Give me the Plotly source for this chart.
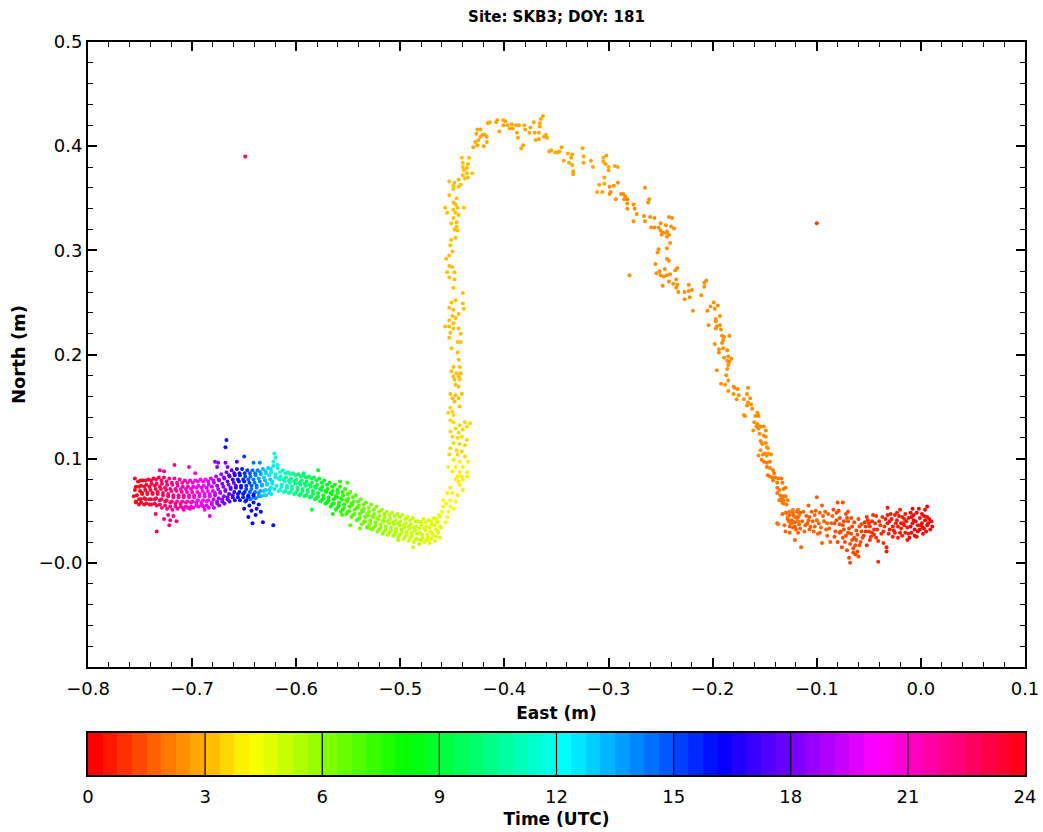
import colorsys
import plotly.graph_objects as go

# Each epoch: (hour UTC, east m, north m)
night_drift = [
    (0.2, 0.011, 0.035), (0.2, 0.009, 0.032), (0.2, 0.007, 0.038), (0.2, 0.006, 0.044), (0.2, 0.006, 0.054),
    (0.2, 0.004, 0.051), (0.2, 0.002, 0.034), (0.2, 0.001, 0.038), (0.2, -0.001, 0.043), (0.2, -0.001, 0.032),
    (0.2, -0.004, 0.048), (0.2, -0.006, 0.032), (0.2, -0.008, 0.038), (0.2, -0.009, 0.044), (0.2, -0.009, 0.029),
    (0.2, -0.011, 0.024), (0.2, -0.005, 0.040), (0.2, -0.003, 0.030), (0.2, -0.010, 0.035), (0.2, 0.003, 0.045),
    (0.2, 0.000, 0.036), (0.2, -0.007, 0.046), (0.2, 0.005, 0.030), (0.2, 0.008, 0.042), (0.2, -0.002, 0.052),
    (0.2, 0.002, 0.028), (0.2, -0.006, 0.026), (0.2, 0.010, 0.040), (0.2, 0.004, 0.041), (0.2, 0.001, 0.047),
    (0.2, -0.003, 0.036), (0.2, -0.007, 0.041), (0.2, -0.010, 0.048), (0.2, 0.006, 0.036), (0.2, -0.004, 0.025),
    (0.2, 0.003, 0.033), (0.2, -0.008, 0.052),
    (0.5, -0.012, 0.043), (0.5, -0.013, 0.022), (0.5, -0.015, 0.029), (0.5, -0.017, 0.038), (0.5, -0.018, 0.044),
    (0.5, -0.020, 0.051), (0.5, -0.022, 0.024), (0.5, -0.023, 0.048), (0.5, -0.025, 0.029), (0.5, -0.027, 0.035),
    (0.5, -0.030, 0.032), (0.5, -0.032, 0.053), (0.5, -0.032, 0.046), (0.5, -0.032, 0.038), (0.5, -0.033, 0.015),
    (0.5, -0.033, 0.011), (0.5, -0.014, 0.040), (0.5, -0.019, 0.033), (0.5, -0.021, 0.045), (0.5, -0.024, 0.038),
    (0.5, -0.028, 0.042), (0.5, -0.012, 0.028), (0.5, -0.016, 0.036), (0.5, -0.026, 0.031), (0.5, -0.029, 0.047),
    (0.5, -0.018, 0.026), (0.5, -0.022, 0.035), (0.5, -0.015, 0.047), (0.5, -0.013, 0.034), (0.5, -0.016, 0.042),
    (0.5, -0.019, 0.038), (0.5, -0.020, 0.029), (0.5, -0.023, 0.041), (0.5, -0.025, 0.046), (0.5, -0.027, 0.025),
    (0.5, -0.030, 0.040), (0.5, -0.031, 0.028), (0.5, -0.034, 0.042),
    (0.9, -0.036, 0.019), (0.9, -0.041, 0.001), (0.9, -0.042, 0.032), (0.9, -0.044, 0.038), (0.9, -0.046, 0.046),
    (0.9, -0.047, 0.029), (0.9, -0.049, 0.035), (0.9, -0.049, 0.022), (0.9, -0.051, 0.041), (0.9, -0.054, 0.039),
    (0.9, -0.035, 0.035), (0.9, -0.038, 0.028), (0.9, -0.040, 0.040), (0.9, -0.045, 0.032), (0.9, -0.048, 0.025),
    (0.9, -0.050, 0.038), (0.9, -0.053, 0.030), (0.9, -0.052, 0.044), (0.9, -0.037, 0.044), (0.9, -0.043, 0.024),
    (0.9, -0.036, 0.030), (0.9, -0.039, 0.036), (0.9, -0.041, 0.021), (0.9, -0.043, 0.045), (0.9, -0.045, 0.027),
    (0.9, -0.047, 0.040), (0.9, -0.050, 0.030), (0.9, -0.052, 0.017), (0.9, -0.053, 0.035), (0.9, -0.055, 0.026),
    (1.3, -0.056, 0.024), (1.3, -0.059, 0.035), (1.3, -0.059, 0.017), (1.3, -0.060, 0.006), (1.3, -0.061, 0.027),
    (1.3, -0.061, 0.011), (1.3, -0.064, 0.039), (1.3, -0.065, 0.014), (1.3, -0.066, 0.022), (1.3, -0.068, 0.000),
    (1.3, -0.070, 0.049), (1.3, -0.070, 0.029), (1.3, -0.071, 0.043), (1.3, -0.075, 0.058), (1.3, -0.075, 0.036),
    (1.3, -0.075, 0.024), (1.3, -0.078, 0.043), (1.3, -0.078, 0.029), (1.3, -0.080, 0.058), (1.3, -0.080, 0.020),
    (1.3, -0.081, 0.048), (1.3, -0.083, 0.038), (1.3, -0.084, 0.051), (1.3, -0.058, 0.020), (1.3, -0.062, 0.031),
    (1.3, -0.064, 0.024), (1.3, -0.066, 0.035), (1.3, -0.068, 0.018), (1.3, -0.070, 0.040), (1.3, -0.072, 0.026),
    (1.3, -0.074, 0.032), (1.3, -0.076, 0.015), (1.3, -0.078, 0.037), (1.3, -0.065, 0.010), (1.3, -0.069, 0.005),
    (1.3, -0.071, 0.012), (1.3, -0.073, 0.020), (1.3, -0.063, 0.017), (1.3, -0.057, 0.030), (1.3, -0.082, 0.030),
    (1.3, -0.057, 0.037), (1.3, -0.060, 0.042), (1.3, -0.062, 0.022), (1.3, -0.063, 0.008), (1.3, -0.067, 0.028),
    (1.3, -0.067, 0.043), (1.3, -0.069, 0.033), (1.3, -0.072, 0.047), (1.3, -0.074, 0.040), (1.3, -0.077, 0.030),
    (1.3, -0.079, 0.050), (1.3, -0.081, 0.041), (1.3, -0.083, 0.025),
    (1.7, -0.087, 0.020), (1.7, -0.090, 0.038), (1.7, -0.092, 0.049), (1.7, -0.095, 0.055), (1.7, -0.095, 0.019),
    (1.7, -0.097, 0.048), (1.7, -0.097, 0.029), (1.7, -0.100, 0.063), (1.7, -0.100, 0.041), (1.7, -0.102, 0.046),
    (1.7, -0.102, 0.035), (1.7, -0.105, 0.049), (1.7, -0.107, 0.044), (1.7, -0.107, 0.032), (1.7, -0.108, 0.055),
    (1.7, -0.109, 0.038), (1.7, -0.115, 0.015), (1.7, -0.116, 0.048), (1.7, -0.118, 0.044), (1.7, -0.118, 0.029),
    (1.7, -0.119, 0.049), (1.7, -0.121, 0.039), (1.7, -0.121, 0.035), (1.7, -0.121, 0.022), (1.7, -0.123, 0.048),
    (1.7, -0.124, 0.041), (1.7, -0.126, 0.046), (1.7, -0.126, 0.035), (1.7, -0.126, 0.029), (1.7, -0.129, 0.048),
    (1.7, -0.138, 0.038), (1.7, -0.085, 0.045), (1.7, -0.088, 0.033), (1.7, -0.090, 0.026), (1.7, -0.093, 0.040),
    (1.7, -0.096, 0.034), (1.7, -0.099, 0.028), (1.7, -0.101, 0.050), (1.7, -0.104, 0.040), (1.7, -0.106, 0.035),
    (1.7, -0.110, 0.045), (1.7, -0.112, 0.030), (1.7, -0.114, 0.040), (1.7, -0.117, 0.037), (1.7, -0.120, 0.032),
    (1.7, -0.122, 0.045), (1.7, -0.125, 0.038), (1.7, -0.128, 0.042), (1.7, -0.131, 0.036), (1.7, -0.133, 0.047),
    (1.7, -0.130, 0.030), (1.7, -0.086, 0.038), (1.7, -0.089, 0.047), (1.7, -0.091, 0.032), (1.7, -0.094, 0.045),
    (1.7, -0.098, 0.038), (1.7, -0.103, 0.030), (1.7, -0.108, 0.041), (1.7, -0.111, 0.036), (1.7, -0.113, 0.049),
    (1.7, -0.116, 0.033), (1.7, -0.119, 0.043), (1.7, -0.123, 0.034), (1.7, -0.127, 0.040),
    (1.0, -0.100, 0.326),
]

rise_east = [
    (2.0, -0.130, 0.048), (2.0, -0.126, 0.049), (2.0, -0.123, 0.051), (2.0, -0.118, 0.051), (2.0, -0.128, 0.044),
    (2.0, -0.121, 0.044), (2.0, -0.117, 0.046), (2.0, -0.137, 0.037), (2.0, -0.124, 0.038), (2.0, -0.118, 0.040),
    (2.0, -0.129, 0.056), (2.0, -0.132, 0.057), (2.0, -0.133, 0.058), (2.0, -0.128, 0.060), (2.0, -0.132, 0.060),
    (2.0, -0.136, 0.060), (2.0, -0.134, 0.062), (2.0, -0.130, 0.064), (2.0, -0.132, 0.064), (2.0, -0.135, 0.065),
    (2.0, -0.138, 0.067), (2.0, -0.130, 0.072), (2.0, -0.132, 0.071), (2.0, -0.136, 0.070), (2.0, -0.138, 0.072),
    (2.0, -0.133, 0.077), (2.0, -0.138, 0.077), (2.0, -0.142, 0.079), (2.0, -0.134, 0.081), (2.0, -0.137, 0.081),
    (2.0, -0.140, 0.082), (2.0, -0.143, 0.082), (2.0, -0.145, 0.083), (2.0, -0.147, 0.084), (2.0, -0.141, 0.086),
    (2.0, -0.142, 0.089), (2.0, -0.145, 0.091), (2.0, -0.148, 0.092), (2.0, -0.145, 0.097), (2.0, -0.148, 0.096),
    (2.0, -0.151, 0.097), (2.0, -0.153, 0.099),
    (2.4, -0.156, 0.103), (2.4, -0.144, 0.104), (2.4, -0.147, 0.105), (2.4, -0.148, 0.103), (2.4, -0.150, 0.105),
    (2.4, -0.152, 0.104), (2.4, -0.154, 0.108), (2.4, -0.147, 0.110), (2.4, -0.148, 0.111), (2.4, -0.149, 0.115),
    (2.4, -0.152, 0.114), (2.4, -0.153, 0.115), (2.4, -0.154, 0.117), (2.4, -0.149, 0.121), (2.4, -0.151, 0.122),
    (2.4, -0.155, 0.124), (2.4, -0.149, 0.127), (2.4, -0.161, 0.127), (2.4, -0.156, 0.129), (2.4, -0.154, 0.131),
    (2.4, -0.151, 0.131), (2.4, -0.158, 0.131), (2.4, -0.157, 0.133), (2.4, -0.160, 0.135), (2.4, -0.157, 0.144),
    (2.4, -0.156, 0.141), (2.4, -0.159, 0.141), (2.4, -0.169, 0.141), (2.4, -0.170, 0.142), (2.4, -0.162, 0.148),
    (2.4, -0.163, 0.152), (2.4, -0.167, 0.151), (2.4, -0.166, 0.154), (2.4, -0.164, 0.158), (2.4, -0.170, 0.157),
    (2.4, -0.177, 0.157), (2.4, -0.167, 0.162), (2.4, -0.175, 0.161), (2.4, -0.180, 0.162), (2.4, -0.166, 0.168),
    (2.4, -0.176, 0.167), (2.4, -0.179, 0.168), (2.4, -0.180, 0.169), (2.4, -0.185, 0.165), (2.4, -0.188, 0.171),
    (2.4, -0.192, 0.172), (2.4, -0.185, 0.175), (2.4, -0.187, 0.180), (2.4, -0.196, 0.185), (2.4, -0.186, 0.186),
    (2.4, -0.185, 0.190), (2.4, -0.184, 0.193), (2.4, -0.186, 0.194), (2.4, -0.182, 0.196), (2.4, -0.185, 0.198),
    (2.4, -0.189, 0.197), (2.4, -0.194, 0.202), (2.4, -0.186, 0.204), (2.4, -0.190, 0.206), (2.4, -0.194, 0.205),
    (2.4, -0.198, 0.210), (2.4, -0.191, 0.211), (2.4, -0.190, 0.214), (2.4, -0.184, 0.218), (2.4, -0.189, 0.217),
    (2.4, -0.191, 0.218), (2.4, -0.192, 0.224), (2.4, -0.197, 0.225), (2.4, -0.193, 0.228), (2.4, -0.196, 0.227),
    (2.4, -0.204, 0.228), (2.4, -0.197, 0.232), (2.4, -0.193, 0.237), (2.4, -0.197, 0.234), (2.4, -0.198, 0.244),
    (2.4, -0.205, 0.242), (2.4, -0.202, 0.246), (2.4, -0.195, 0.247), (2.4, -0.199, 0.250), (2.4, -0.219, 0.242),
    (2.4, -0.211, 0.257), (2.4, -0.208, 0.265), (2.4, -0.206, 0.271), (2.4, -0.208, 0.269), (2.4, -0.220, 0.262),
    (2.4, -0.223, 0.261), (2.4, -0.223, 0.267), (2.4, -0.222, 0.255), (2.4, -0.227, 0.253), (2.4, -0.227, 0.260),
    (2.4, -0.233, 0.260), (2.4, -0.234, 0.267), (2.4, -0.235, 0.264), (2.4, -0.248, 0.266), (2.4, -0.235, 0.272),
    (2.4, -0.238, 0.268), (2.4, -0.242, 0.270), (2.4, -0.234, 0.283), (2.4, -0.236, 0.281), (2.4, -0.241, 0.277),
    (2.4, -0.244, 0.276), (2.4, -0.247, 0.275), (2.4, -0.250, 0.276), (2.4, -0.246, 0.282), (2.4, -0.251, 0.280),
    (2.4, -0.254, 0.278), (2.4, -0.280, 0.276), (2.4, -0.255, 0.287), (2.4, -0.242, 0.290), (2.4, -0.244, 0.292),
    (2.4, -0.253, 0.298), (2.4, -0.244, 0.302), (2.4, -0.252, 0.301), (2.4, -0.241, 0.307), (2.4, -0.242, 0.315),
    (2.4, -0.244, 0.313), (2.4, -0.249, 0.315), (2.4, -0.245, 0.317), (2.4, -0.248, 0.317), (2.4, -0.244, 0.318),
    (2.4, -0.250, 0.319), (2.4, -0.252, 0.322), (2.4, -0.256, 0.322), (2.4, -0.259, 0.322), (2.4, -0.237, 0.321),
    (2.4, -0.240, 0.323), (2.4, -0.245, 0.324), (2.4, -0.250, 0.326), (2.4, -0.239, 0.331), (2.4, -0.242, 0.332),
    (2.4, -0.256, 0.331), (2.4, -0.260, 0.332), (2.4, -0.265, 0.328), (2.4, -0.266, 0.333), (2.4, -0.273, 0.335),
    (2.4, -0.276, 0.328), (2.4, -0.275, 0.340), (2.4, -0.276, 0.344), (2.4, -0.282, 0.340), (2.4, -0.282, 0.345),
    (2.4, -0.262, 0.346), (2.4, -0.261, 0.349), (2.4, -0.265, 0.360), (2.4, -0.282, 0.349), (2.4, -0.285, 0.349),
    (2.4, -0.284, 0.352), (2.4, -0.286, 0.354), (2.4, -0.288, 0.354), (2.4, -0.293, 0.349), (2.4, -0.291, 0.365),
    (2.4, -0.295, 0.362), (2.4, -0.298, 0.356), (2.4, -0.299, 0.361), (2.4, -0.299, 0.354),
]

crest = [
    (2.8, -0.300, 0.377), (2.8, -0.300, 0.380), (2.8, -0.294, 0.381), (2.8, -0.291, 0.380), (2.8, -0.302, 0.391),
    (2.8, -0.303, 0.383), (2.8, -0.305, 0.389), (2.8, -0.305, 0.385), (2.8, -0.304, 0.370), (2.8, -0.304, 0.364),
    (2.8, -0.309, 0.363), (2.8, -0.306, 0.356), (2.8, -0.311, 0.356), (2.8, -0.315, 0.380), (2.8, -0.317, 0.386),
    (2.8, -0.324, 0.390), (2.8, -0.324, 0.384), (2.8, -0.325, 0.398), (2.8, -0.334, 0.376), (2.8, -0.334, 0.373),
    (2.8, -0.335, 0.382), (2.8, -0.338, 0.384), (2.8, -0.336, 0.389), (2.8, -0.335, 0.392), (2.8, -0.339, 0.393),
    (2.8, -0.343, 0.386), (2.8, -0.345, 0.399), (2.8, -0.347, 0.395), (2.8, -0.349, 0.394), (2.8, -0.351, 0.394),
    (2.8, -0.355, 0.396), (2.8, -0.357, 0.395), (2.8, -0.359, 0.408), (2.8, -0.360, 0.411), (2.8, -0.362, 0.409),
    (2.8, -0.363, 0.429), (2.8, -0.365, 0.426), (2.8, -0.366, 0.422), (2.8, -0.366, 0.419), (2.8, -0.367, 0.413),
    (2.8, -0.367, 0.407), (2.8, -0.370, 0.406), (2.8, -0.371, 0.413), (2.8, -0.372, 0.423), (2.8, -0.375, 0.418),
    (2.8, -0.376, 0.413), (2.8, -0.380, 0.416), (2.8, -0.381, 0.420), (2.8, -0.382, 0.401), (2.8, -0.384, 0.398),
    (2.8, -0.386, 0.420), (2.8, -0.387, 0.408), (2.8, -0.388, 0.413), (2.8, -0.389, 0.420), (2.8, -0.392, 0.417),
    (2.8, -0.393, 0.421), (2.8, -0.395, 0.417), (2.8, -0.397, 0.420), (2.8, -0.399, 0.424), (2.8, -0.401, 0.425),
    (2.8, -0.401, 0.420), (2.8, -0.405, 0.414), (2.8, -0.407, 0.425), (2.8, -0.408, 0.423), (2.8, -0.414, 0.423),
    (2.8, -0.416, 0.422), (2.8, -0.417, 0.409), (2.8, -0.417, 0.404), (2.8, -0.419, 0.411), (2.8, -0.421, 0.411),
    (2.8, -0.420, 0.400), (2.8, -0.423, 0.416), (2.8, -0.423, 0.409), (2.8, -0.425, 0.406), (2.8, -0.426, 0.416),
    (2.8, -0.426, 0.401), (2.8, -0.427, 0.412), (2.8, -0.428, 0.404), (2.8, -0.430, 0.399),
]

fall_south = [
    (3.1, -0.434, 0.389), (3.1, -0.435, 0.383), (3.1, -0.436, 0.379), (3.1, -0.436, 0.374), (3.1, -0.431, 0.374),
    (3.1, -0.438, 0.369), (3.1, -0.435, 0.370), (3.1, -0.439, 0.377), (3.1, -0.440, 0.372), (3.1, -0.440, 0.380),
    (3.1, -0.440, 0.384), (3.1, -0.441, 0.389), (3.1, -0.442, 0.363), (3.1, -0.444, 0.368), (3.1, -0.444, 0.361),
    (3.1, -0.448, 0.365), (3.1, -0.453, 0.366), (3.1, -0.449, 0.362), (3.1, -0.449, 0.359), (3.1, -0.453, 0.353),
    (3.1, -0.446, 0.350), (3.1, -0.449, 0.346), (3.1, -0.447, 0.344), (3.1, -0.439, 0.341), (3.1, -0.445, 0.341),
    (3.1, -0.449, 0.339), (3.1, -0.457, 0.341), (3.1, -0.455, 0.336), (3.1, -0.447, 0.336), (3.1, -0.444, 0.334),
    (3.1, -0.449, 0.331), (3.1, -0.446, 0.327), (3.1, -0.451, 0.326), (3.1, -0.446, 0.323), (3.1, -0.448, 0.320),
    (3.1, -0.445, 0.319), (3.1, -0.451, 0.310), (3.1, -0.447, 0.312), (3.1, -0.452, 0.305), (3.1, -0.450, 0.299),
    (3.1, -0.453, 0.295), (3.1, -0.456, 0.292), (3.1, -0.453, 0.285), (3.1, -0.450, 0.284), (3.1, -0.448, 0.279),
    (3.1, -0.455, 0.279), (3.1, -0.453, 0.274), (3.1, -0.448, 0.272), (3.1, -0.449, 0.264), (3.1, -0.440, 0.259),
    (3.1, -0.451, 0.250), (3.1, -0.447, 0.252),
    (3.3, -0.440, 0.249), (3.3, -0.439, 0.244), (3.3, -0.449, 0.243), (3.3, -0.453, 0.245), (3.3, -0.444, 0.239),
    (3.3, -0.450, 0.237), (3.3, -0.447, 0.235), (3.3, -0.453, 0.233), (3.3, -0.449, 0.230), (3.3, -0.457, 0.227),
    (3.3, -0.453, 0.227), (3.3, -0.449, 0.225), (3.3, -0.444, 0.225), (3.3, -0.452, 0.221), (3.3, -0.442, 0.220),
    (3.3, -0.453, 0.216), (3.3, -0.445, 0.212), (3.3, -0.442, 0.212), (3.3, -0.451, 0.206), (3.3, -0.445, 0.202),
    (3.3, -0.444, 0.195), (3.3, -0.449, 0.188), (3.3, -0.443, 0.188), (3.3, -0.451, 0.184), (3.3, -0.446, 0.182),
    (3.3, -0.442, 0.182), (3.3, -0.449, 0.179), (3.3, -0.444, 0.179), (3.3, -0.448, 0.176), (3.3, -0.443, 0.176),
    (3.3, -0.447, 0.171), (3.3, -0.444, 0.169), (3.3, -0.452, 0.162), (3.3, -0.447, 0.161), (3.3, -0.441, 0.162),
    (3.3, -0.450, 0.158), (3.3, -0.444, 0.158), (3.3, -0.448, 0.155), (3.3, -0.443, 0.150),
    (3.6, -0.452, 0.149), (3.6, -0.450, 0.145), (3.6, -0.454, 0.144), (3.6, -0.449, 0.142), (3.6, -0.452, 0.137),
    (3.6, -0.449, 0.135), (3.6, -0.438, 0.135), (3.6, -0.433, 0.134), (3.6, -0.443, 0.132), (3.6, -0.436, 0.131),
    (3.6, -0.447, 0.129), (3.6, -0.440, 0.128), (3.6, -0.452, 0.126), (3.6, -0.444, 0.125), (3.6, -0.450, 0.121),
    (3.6, -0.445, 0.120), (3.6, -0.441, 0.121), (3.6, -0.436, 0.118), (3.6, -0.449, 0.115), (3.6, -0.443, 0.114),
    (3.6, -0.438, 0.113), (3.6, -0.452, 0.110), (3.6, -0.446, 0.108), (3.6, -0.441, 0.107), (3.6, -0.453, 0.104),
    (3.6, -0.445, 0.104), (3.6, -0.438, 0.102),
    (3.9, -0.449, 0.099), (3.9, -0.443, 0.097), (3.9, -0.435, 0.097), (3.9, -0.454, 0.092), (3.9, -0.447, 0.092),
    (3.9, -0.440, 0.092), (3.9, -0.450, 0.088), (3.9, -0.443, 0.087), (3.9, -0.436, 0.087), (3.9, -0.445, 0.083),
    (3.9, -0.441, 0.083), (3.9, -0.436, 0.083), (3.9, -0.444, 0.078), (3.9, -0.440, 0.080), (3.9, -0.447, 0.080),
    (3.9, -0.443, 0.075), (3.9, -0.440, 0.070), (3.9, -0.452, 0.072), (3.9, -0.455, 0.067), (3.9, -0.450, 0.067),
    (3.9, -0.445, 0.065),
    (4.2, -0.459, 0.060), (4.2, -0.452, 0.060), (4.2, -0.447, 0.059), (4.2, -0.459, 0.054), (4.2, -0.452, 0.054),
    (4.2, -0.460, 0.049), (4.2, -0.454, 0.049), (4.2, -0.449, 0.052), (4.2, -0.456, 0.057),
    (4.4, -0.462, 0.044), (4.4, -0.455, 0.044), (4.4, -0.464, 0.039), (4.4, -0.457, 0.039), (4.4, -0.468, 0.036),
    (4.4, -0.462, 0.035),
]

west_creep = [
    (4.5, -0.463, 0.046), (4.5, -0.465, 0.040), (4.5, -0.461, 0.034), (4.5, -0.464, 0.029), (4.5, -0.462, 0.024),
    (4.6, -0.468, 0.043), (4.6, -0.470, 0.037), (4.6, -0.466, 0.032), (4.6, -0.469, 0.026), (4.6, -0.467, 0.021),
    (4.7, -0.473, 0.041), (4.7, -0.475, 0.035), (4.7, -0.471, 0.030), (4.7, -0.474, 0.025), (4.7, -0.472, 0.019),
    (4.8, -0.478, 0.042), (4.8, -0.480, 0.036), (4.8, -0.476, 0.031), (4.8, -0.479, 0.024), (4.8, -0.477, 0.020),
    (4.9, -0.483, 0.040), (4.9, -0.485, 0.035), (4.9, -0.481, 0.029), (4.9, -0.484, 0.023), (4.9, -0.482, 0.018),
    (5.0, -0.488, 0.043), (5.0, -0.490, 0.037), (5.0, -0.486, 0.031), (5.0, -0.489, 0.026), (5.0, -0.487, 0.020),
    (5.1, -0.493, 0.044), (5.1, -0.495, 0.038), (5.1, -0.491, 0.033), (5.1, -0.494, 0.027), (5.1, -0.492, 0.021),
    (5.2, -0.498, 0.046), (5.2, -0.500, 0.040), (5.2, -0.496, 0.034), (5.2, -0.499, 0.029), (5.2, -0.497, 0.023),
    (5.3, -0.503, 0.047), (5.3, -0.505, 0.041), (5.3, -0.501, 0.036), (5.3, -0.504, 0.030), (5.3, -0.502, 0.025),
    (5.5, -0.508, 0.048), (5.5, -0.510, 0.042), (5.5, -0.506, 0.037), (5.5, -0.509, 0.031), (5.5, -0.507, 0.026),
    (5.6, -0.513, 0.049), (5.6, -0.515, 0.044), (5.6, -0.511, 0.038), (5.6, -0.514, 0.032), (5.6, -0.512, 0.027),
    (5.8, -0.518, 0.051), (5.8, -0.520, 0.045), (5.8, -0.516, 0.040), (5.8, -0.519, 0.034), (5.8, -0.517, 0.028),
    (6.0, -0.523, 0.054), (6.0, -0.525, 0.047), (6.0, -0.521, 0.042), (6.0, -0.524, 0.036), (6.0, -0.522, 0.030),
    (6.2, -0.528, 0.056), (6.2, -0.530, 0.049), (6.2, -0.526, 0.044), (6.2, -0.529, 0.038), (6.2, -0.527, 0.032),
    (6.4, -0.533, 0.058), (6.4, -0.535, 0.052), (6.4, -0.531, 0.046), (6.4, -0.534, 0.040), (6.4, -0.532, 0.034),
    (6.6, -0.538, 0.061), (6.6, -0.540, 0.055), (6.6, -0.536, 0.049), (6.6, -0.539, 0.043), (6.6, -0.537, 0.037),
    (6.9, -0.543, 0.065), (6.9, -0.545, 0.059), (6.9, -0.541, 0.053), (6.9, -0.544, 0.047), (6.9, -0.542, 0.041),
    (7.1, -0.548, 0.068), (7.1, -0.550, 0.062), (7.1, -0.546, 0.056), (7.1, -0.549, 0.050), (7.1, -0.547, 0.044),
    (7.4, -0.553, 0.071), (7.4, -0.555, 0.065), (7.4, -0.551, 0.059), (7.4, -0.554, 0.053), (7.4, -0.552, 0.047),
    (7.7, -0.558, 0.073), (7.7, -0.560, 0.067), (7.7, -0.556, 0.061), (7.7, -0.559, 0.055), (7.7, -0.557, 0.049),
    (8.0, -0.563, 0.075), (8.0, -0.565, 0.069), (8.0, -0.561, 0.063), (8.0, -0.564, 0.057), (8.0, -0.562, 0.051),
    (8.3, -0.568, 0.077), (8.3, -0.570, 0.071), (8.3, -0.566, 0.066), (8.3, -0.569, 0.060), (8.3, -0.567, 0.054),
    (8.6, -0.573, 0.079), (8.6, -0.575, 0.073), (8.6, -0.571, 0.068), (8.6, -0.574, 0.062), (8.6, -0.572, 0.057),
    (8.9, -0.578, 0.081), (8.9, -0.580, 0.075), (8.9, -0.576, 0.070), (8.9, -0.579, 0.064), (8.9, -0.577, 0.059),
    (9.2, -0.583, 0.082), (9.2, -0.585, 0.077), (9.2, -0.581, 0.072), (9.2, -0.584, 0.066), (9.2, -0.582, 0.061),
    (9.5, -0.588, 0.083), (9.5, -0.590, 0.078), (9.5, -0.586, 0.073), (9.5, -0.589, 0.068), (9.5, -0.587, 0.063),
    (9.8, -0.593, 0.084), (9.8, -0.595, 0.079), (9.8, -0.591, 0.074), (9.8, -0.594, 0.069), (9.8, -0.592, 0.064),
    (10.1, -0.598, 0.085), (10.1, -0.600, 0.080), (10.1, -0.596, 0.075), (10.1, -0.599, 0.070), (10.1, -0.597, 0.065),
    (10.4, -0.603, 0.086), (10.4, -0.605, 0.081), (10.4, -0.601, 0.076), (10.4, -0.604, 0.071), (10.4, -0.602, 0.066),
    (10.8, -0.608, 0.087), (10.8, -0.610, 0.082), (10.8, -0.606, 0.077), (10.8, -0.609, 0.072), (10.8, -0.607, 0.067),
    (11.2, -0.613, 0.089), (11.2, -0.615, 0.083), (11.2, -0.611, 0.078), (11.2, -0.614, 0.073), (11.2, -0.612, 0.068),
    (11.6, -0.618, 0.091), (11.6, -0.620, 0.085), (11.6, -0.616, 0.080), (11.6, -0.619, 0.074), (11.6, -0.617, 0.069),
    (4.6, -0.4655, 0.042), (4.6, -0.467, 0.036), (4.6, -0.464, 0.030), (4.6, -0.4655, 0.025),
    (4.7, -0.4705, 0.040), (4.7, -0.472, 0.034), (4.7, -0.469, 0.028), (4.7, -0.4705, 0.023),
    (4.8, -0.4755, 0.039), (4.8, -0.477, 0.033), (4.8, -0.474, 0.027), (4.8, -0.4755, 0.022),
    (4.9, -0.4805, 0.039), (4.9, -0.482, 0.033), (4.9, -0.479, 0.027), (4.9, -0.4805, 0.022),
    (5.0, -0.4855, 0.040), (5.0, -0.487, 0.034), (5.0, -0.484, 0.028), (5.0, -0.4855, 0.023),
    (5.1, -0.4905, 0.041), (5.1, -0.492, 0.035), (5.1, -0.489, 0.029), (5.1, -0.4905, 0.024),
    (5.2, -0.4955, 0.042), (5.2, -0.497, 0.036), (5.2, -0.494, 0.030), (5.2, -0.4955, 0.025),
    (5.3, -0.5005, 0.044), (5.3, -0.502, 0.038), (5.3, -0.499, 0.032), (5.3, -0.5005, 0.027),
    (5.4, -0.5055, 0.045), (5.4, -0.507, 0.039), (5.4, -0.504, 0.033), (5.4, -0.5055, 0.028),
    (5.6, -0.5105, 0.046), (5.6, -0.512, 0.040), (5.6, -0.509, 0.034), (5.6, -0.5105, 0.029),
    (5.7, -0.5155, 0.047), (5.7, -0.517, 0.041), (5.7, -0.514, 0.035), (5.7, -0.5155, 0.030),
    (5.9, -0.5205, 0.049), (5.9, -0.522, 0.043), (5.9, -0.519, 0.037), (5.9, -0.5205, 0.032),
    (6.1, -0.5255, 0.051), (6.1, -0.527, 0.045), (6.1, -0.524, 0.039), (6.1, -0.5255, 0.034),
    (6.3, -0.5305, 0.053), (6.3, -0.532, 0.047), (6.3, -0.529, 0.041), (6.3, -0.5305, 0.036),
    (6.5, -0.5355, 0.056), (6.5, -0.537, 0.050), (6.5, -0.534, 0.044), (6.5, -0.5355, 0.039),
    (6.8, -0.5405, 0.059), (6.8, -0.542, 0.053), (6.8, -0.539, 0.047), (6.8, -0.5405, 0.042),
    (7.0, -0.5455, 0.063), (7.0, -0.547, 0.057), (7.0, -0.544, 0.051), (7.0, -0.5455, 0.046),
    (7.3, -0.5505, 0.066), (7.3, -0.552, 0.060), (7.3, -0.549, 0.054), (7.3, -0.5505, 0.049),
    (7.6, -0.5555, 0.068), (7.6, -0.557, 0.062), (7.6, -0.554, 0.056), (7.6, -0.5555, 0.051),
    (7.9, -0.5605, 0.070), (7.9, -0.562, 0.064), (7.9, -0.559, 0.058), (7.9, -0.5605, 0.053),
    (8.2, -0.5655, 0.073), (8.2, -0.567, 0.067), (8.2, -0.564, 0.061), (8.2, -0.5655, 0.056),
    (8.5, -0.5705, 0.075), (8.5, -0.572, 0.069), (8.5, -0.569, 0.063), (8.5, -0.5705, 0.058),
    (8.8, -0.5755, 0.077), (8.8, -0.577, 0.071), (8.8, -0.574, 0.065), (8.8, -0.5755, 0.060),
    (9.1, -0.5805, 0.079), (9.1, -0.582, 0.073), (9.1, -0.579, 0.067), (9.1, -0.5805, 0.062),
    (9.4, -0.5855, 0.081), (9.4, -0.587, 0.075), (9.4, -0.584, 0.069), (9.4, -0.5855, 0.064),
    (9.7, -0.5905, 0.082), (9.7, -0.592, 0.076), (9.7, -0.589, 0.070), (9.7, -0.5905, 0.065),
    (10.0, -0.5955, 0.083), (10.0, -0.597, 0.077), (10.0, -0.594, 0.071), (10.0, -0.5955, 0.066),
    (10.3, -0.6005, 0.084), (10.3, -0.602, 0.078), (10.3, -0.599, 0.072), (10.3, -0.6005, 0.067),
    (10.6, -0.6055, 0.085), (10.6, -0.607, 0.079), (10.6, -0.604, 0.073), (10.6, -0.6055, 0.068),
    (11.0, -0.6105, 0.086), (11.0, -0.612, 0.080), (11.0, -0.609, 0.074), (11.0, -0.6105, 0.069),
    (11.4, -0.6155, 0.087), (11.4, -0.617, 0.081), (11.4, -0.614, 0.075), (11.4, -0.6155, 0.070),
    (4.9, -0.488, 0.015), (4.7, -0.474, 0.022), (5.3, -0.502, 0.022), (5.5, -0.512, 0.027), (6.2, -0.529, 0.033),
    (6.6, -0.539, 0.033), (7.1, -0.548, 0.036), (7.4, -0.556, 0.046), (7.9, -0.565, 0.047), (9.2, -0.585, 0.051),
    (8.9, -0.579, 0.089), (9.8, -0.593, 0.086), (7.7, -0.558, 0.078), (7.4, -0.551, 0.077),
]

evening_cluster = [
    (11.9, -0.621, 0.105), (11.9, -0.620, 0.101), (11.9, -0.622, 0.097), (11.9, -0.618, 0.094),
    (12.4, -0.622, 0.093), (12.4, -0.624, 0.087), (12.4, -0.620, 0.082), (12.4, -0.623, 0.076), (12.4, -0.621, 0.071), (12.4, -0.624, 0.066),
    (12.9, -0.627, 0.091), (12.9, -0.629, 0.086), (12.9, -0.625, 0.080), (12.9, -0.628, 0.075), (12.9, -0.626, 0.070), (12.9, -0.629, 0.065),
    (13.4, -0.632, 0.090), (13.4, -0.634, 0.085), (13.4, -0.630, 0.079), (13.4, -0.633, 0.074), (13.4, -0.631, 0.069), (13.4, -0.634, 0.064),
    (14.0, -0.637, 0.089), (14.0, -0.639, 0.084), (14.0, -0.635, 0.078), (14.0, -0.638, 0.072), (14.0, -0.636, 0.067), (14.0, -0.639, 0.062),
    (14.6, -0.642, 0.089), (14.6, -0.644, 0.083), (14.6, -0.640, 0.077), (14.6, -0.643, 0.071), (14.6, -0.641, 0.066), (14.6, -0.644, 0.061),
    (15.2, -0.647, 0.089), (15.2, -0.649, 0.083), (15.2, -0.645, 0.077), (15.2, -0.648, 0.071), (15.2, -0.646, 0.065), (15.2, -0.649, 0.059),
    (15.8, -0.652, 0.090), (15.8, -0.654, 0.084), (15.8, -0.650, 0.078), (15.8, -0.653, 0.072), (15.8, -0.651, 0.066), (15.8, -0.654, 0.060),
    (16.5, -0.657, 0.090), (16.5, -0.659, 0.084), (16.5, -0.655, 0.078), (16.5, -0.658, 0.072), (16.5, -0.656, 0.066), (16.5, -0.659, 0.060),
    (17.3, -0.662, 0.089), (17.3, -0.664, 0.083), (17.3, -0.660, 0.077), (17.3, -0.663, 0.071), (17.3, -0.661, 0.065), (17.3, -0.664, 0.059),
    (18.0, -0.667, 0.087), (18.0, -0.669, 0.081), (18.0, -0.665, 0.075), (18.0, -0.668, 0.069), (18.0, -0.666, 0.063), (18.0, -0.669, 0.057),
    (18.5, -0.672, 0.085), (18.5, -0.674, 0.079), (18.5, -0.670, 0.073), (18.5, -0.673, 0.067), (18.5, -0.671, 0.061), (18.5, -0.674, 0.055),
    (19.0, -0.677, 0.083), (19.0, -0.679, 0.077), (19.0, -0.675, 0.071), (19.0, -0.678, 0.065), (19.0, -0.676, 0.059), (19.0, -0.679, 0.053),
    (19.5, -0.682, 0.081), (19.5, -0.684, 0.075), (19.5, -0.680, 0.069), (19.5, -0.683, 0.064), (19.5, -0.681, 0.058), (19.5, -0.684, 0.053),
    (19.9, -0.687, 0.080), (19.9, -0.689, 0.074), (19.9, -0.685, 0.069), (19.9, -0.688, 0.064), (19.9, -0.686, 0.059), (19.9, -0.689, 0.054),
    (20.3, -0.692, 0.080), (20.3, -0.694, 0.074), (20.3, -0.690, 0.069), (20.3, -0.693, 0.064), (20.3, -0.691, 0.058), (20.3, -0.694, 0.054),
    (20.7, -0.697, 0.079), (20.7, -0.699, 0.073), (20.7, -0.695, 0.068), (20.7, -0.698, 0.063), (20.7, -0.696, 0.058), (20.7, -0.699, 0.053),
    (21.1, -0.702, 0.079), (21.1, -0.704, 0.073), (21.1, -0.700, 0.068), (21.1, -0.703, 0.063), (21.1, -0.701, 0.058), (21.1, -0.704, 0.053),
    (21.5, -0.707, 0.079), (21.5, -0.709, 0.073), (21.5, -0.705, 0.068), (21.5, -0.708, 0.063), (21.5, -0.706, 0.058), (21.5, -0.709, 0.053),
    (21.8, -0.712, 0.080), (21.8, -0.714, 0.074), (21.8, -0.710, 0.068), (21.8, -0.713, 0.063), (21.8, -0.711, 0.057), (21.8, -0.714, 0.052),
    (22.1, -0.717, 0.081), (22.1, -0.719, 0.075), (22.1, -0.715, 0.069), (22.1, -0.718, 0.063), (22.1, -0.716, 0.057), (22.1, -0.719, 0.051),
    (22.4, -0.722, 0.081), (22.4, -0.724, 0.075), (22.4, -0.720, 0.069), (22.4, -0.723, 0.064), (22.4, -0.721, 0.058), (22.4, -0.724, 0.052),
    (22.7, -0.727, 0.082), (22.7, -0.729, 0.076), (22.7, -0.725, 0.070), (22.7, -0.728, 0.065), (22.7, -0.726, 0.059), (22.7, -0.729, 0.053),
    (23.0, -0.732, 0.082), (23.0, -0.734, 0.076), (23.0, -0.730, 0.071), (23.0, -0.733, 0.066), (23.0, -0.731, 0.060), (23.0, -0.734, 0.055),
    (23.2, -0.737, 0.081), (23.2, -0.739, 0.076), (23.2, -0.735, 0.071), (23.2, -0.738, 0.066), (23.2, -0.736, 0.061), (23.2, -0.739, 0.056),
    (23.4, -0.742, 0.080), (23.4, -0.744, 0.075), (23.4, -0.740, 0.070), (23.4, -0.743, 0.066), (23.4, -0.741, 0.061), (23.4, -0.744, 0.057),
    (23.6, -0.747, 0.079), (23.6, -0.749, 0.074), (23.6, -0.745, 0.070), (23.6, -0.748, 0.066), (23.6, -0.746, 0.062), (23.6, -0.749, 0.058),
    (23.8, -0.752, 0.078), (23.8, -0.754, 0.073), (23.8, -0.750, 0.069), (23.8, -0.753, 0.065), (23.8, -0.751, 0.061), (23.8, -0.754, 0.058),
    (23.8, -0.755, 0.070), (23.8, -0.756, 0.064), (23.8, -0.755, 0.081), (23.8, -0.754, 0.059),
    (23.7, -0.7495, 0.079), (23.7, -0.751, 0.073), (23.7, -0.748, 0.067), (23.7, -0.7495, 0.061), (23.7, -0.751, 0.056),
    (23.5, -0.7445, 0.079), (23.5, -0.746, 0.073), (23.5, -0.743, 0.067), (23.5, -0.7445, 0.061), (23.5, -0.746, 0.056),
    (23.3, -0.7395, 0.079), (23.3, -0.741, 0.073), (23.3, -0.738, 0.067), (23.3, -0.7395, 0.061), (23.3, -0.741, 0.056),
    (23.1, -0.7345, 0.080), (23.1, -0.736, 0.074), (23.1, -0.733, 0.068), (23.1, -0.7345, 0.062), (23.1, -0.736, 0.057),
    (22.8, -0.7295, 0.079), (22.8, -0.731, 0.073), (22.8, -0.728, 0.067), (22.8, -0.7295, 0.061), (22.8, -0.731, 0.056),
    (22.5, -0.7245, 0.078), (22.5, -0.726, 0.072), (22.5, -0.723, 0.066), (22.5, -0.7245, 0.060), (22.5, -0.726, 0.055),
    (22.2, -0.7195, 0.077), (22.2, -0.721, 0.071), (22.2, -0.718, 0.065), (22.2, -0.7195, 0.059), (22.2, -0.721, 0.054),
    (21.9, -0.7145, 0.077), (21.9, -0.716, 0.071), (21.9, -0.713, 0.065), (21.9, -0.7145, 0.059), (21.9, -0.716, 0.054),
    (21.6, -0.7095, 0.077), (21.6, -0.711, 0.071), (21.6, -0.708, 0.065), (21.6, -0.7095, 0.059), (21.6, -0.711, 0.054),
    (21.3, -0.7045, 0.077), (21.3, -0.706, 0.071), (21.3, -0.703, 0.065), (21.3, -0.7045, 0.059), (21.3, -0.706, 0.054),
    (20.9, -0.6995, 0.077), (20.9, -0.701, 0.071), (20.9, -0.698, 0.065), (20.9, -0.6995, 0.059), (20.9, -0.701, 0.054),
    (20.5, -0.6945, 0.078), (20.5, -0.696, 0.072), (20.5, -0.693, 0.066), (20.5, -0.6945, 0.060), (20.5, -0.696, 0.055),
    (20.1, -0.6895, 0.078), (20.1, -0.691, 0.072), (20.1, -0.688, 0.066), (20.1, -0.6895, 0.060), (20.1, -0.691, 0.055),
    (19.7, -0.6845, 0.078), (19.7, -0.686, 0.072), (19.7, -0.683, 0.066), (19.7, -0.6845, 0.060), (19.7, -0.686, 0.055),
    (19.2, -0.6795, 0.079), (19.2, -0.681, 0.073), (19.2, -0.678, 0.067), (19.2, -0.6795, 0.061), (19.2, -0.681, 0.056),
    (18.7, -0.6745, 0.080), (18.7, -0.676, 0.074), (18.7, -0.673, 0.068), (18.7, -0.6745, 0.062), (18.7, -0.676, 0.057),
    (18.2, -0.6695, 0.082), (18.2, -0.671, 0.076), (18.2, -0.668, 0.070), (18.2, -0.6695, 0.064), (18.2, -0.671, 0.059),
    (17.6, -0.6645, 0.084), (17.6, -0.666, 0.078), (17.6, -0.663, 0.072), (17.6, -0.6645, 0.066), (17.6, -0.666, 0.061),
    (16.9, -0.6595, 0.086), (16.9, -0.661, 0.080), (16.9, -0.658, 0.074), (16.9, -0.6595, 0.068), (16.9, -0.661, 0.063),
    (16.1, -0.6545, 0.086), (16.1, -0.656, 0.080), (16.1, -0.653, 0.074), (16.1, -0.6545, 0.068), (16.1, -0.656, 0.063),
    (15.5, -0.6495, 0.086), (15.5, -0.651, 0.080), (15.5, -0.648, 0.074), (15.5, -0.6495, 0.068), (15.5, -0.651, 0.063),
    (14.9, -0.6445, 0.086), (14.9, -0.646, 0.080), (14.9, -0.643, 0.074), (14.9, -0.6445, 0.068), (14.9, -0.646, 0.063),
    (14.3, -0.6395, 0.086), (14.3, -0.641, 0.080), (14.3, -0.638, 0.074), (14.3, -0.6395, 0.068), (14.3, -0.641, 0.063),
    (13.7, -0.6345, 0.087), (13.7, -0.636, 0.081), (13.7, -0.633, 0.075), (13.7, -0.6345, 0.069), (13.7, -0.636, 0.064),
    (13.1, -0.6295, 0.088), (13.1, -0.631, 0.082), (13.1, -0.628, 0.076), (13.1, -0.6295, 0.070), (13.1, -0.631, 0.065),
    (12.6, -0.6245, 0.090), (12.6, -0.626, 0.084), (12.6, -0.623, 0.078), (12.6, -0.6245, 0.072), (12.6, -0.626, 0.067),
    (16.3, -0.646, 0.044), (16.3, -0.642, 0.038), (16.3, -0.632, 0.039), (16.3, -0.622, 0.036),
    (16.3, -0.648, 0.060), (16.3, -0.645, 0.055), (16.3, -0.641, 0.058), (16.3, -0.638, 0.052), (16.3, -0.643, 0.050),
    (16.3, -0.639, 0.046), (16.3, -0.636, 0.056), (16.3, -0.634, 0.049), (16.3, -0.650, 0.052), (16.3, -0.646, 0.064),
    (16.3, -0.641, 0.065), (16.0, -0.667, 0.118), (16.0, -0.668, 0.111),
    (18.2, -0.678, 0.097), (18.2, -0.675, 0.096), (18.2, -0.668, 0.096), (18.2, -0.666, 0.092), (18.2, -0.676, 0.092),
    (17.0, -0.657, 0.097), (15.0, -0.650, 0.102), (14.5, -0.641, 0.096), (14.0, -0.635, 0.096),
    (22.0, -0.717, 0.094), (22.0, -0.731, 0.089), (22.0, -0.727, 0.088), (21.2, -0.703, 0.092), (20.8, -0.697, 0.086),
    (22.8, -0.735, 0.047), (22.3, -0.723, 0.046), (22.3, -0.718, 0.045), (22.3, -0.721, 0.041), (22.3, -0.727, 0.042),
    (22.3, -0.715, 0.040), (22.3, -0.722, 0.036), (22.8, -0.734, 0.030), (21.6, -0.708, 0.051), (21.2, -0.702, 0.052),
    (19.5, -0.683, 0.045), (20.0, -0.688, 0.051), (20.2, -0.690, 0.055), (22.5, -0.649, 0.390),
]

epochs = night_drift + rise_east + crest + fall_south + west_creep + evening_cluster
hours = [p[0] for p in epochs]
east = [p[1] for p in epochs]
north = [p[2] for p in epochs]

# 64-step hue wheel palette spanning the full day
N_STEPS = 64
palette = []
for k in range(N_STEPS):
    r, g, b = colorsys.hsv_to_rgb(k / N_STEPS, 1.0, 1.0)
    c = f"rgb({round(r * 255)},{round(g * 255)},{round(b * 255)})"
    palette.append([k / N_STEPS, c])
    palette.append([(k + 1) / N_STEPS, c])

bar_edges = [24 * k / N_STEPS for k in range(N_STEPS + 1)]
bar_values = [24 * (k + 0.5) / N_STEPS for k in range(N_STEPS)]

FONT = "DejaVu Sans, Liberation Sans, Arial, sans-serif"

fig = go.Figure()
fig.add_trace(go.Scatter(
    x=east, y=north, mode="markers",
    marker=dict(size=4, color=hours, coloraxis="coloraxis", line=dict(width=0)),
    xaxis="x", yaxis="y", showlegend=False, hoverinfo="skip",
))
fig.add_trace(go.Heatmap(
    x=bar_edges, y=[0, 1], z=[bar_values], coloraxis="coloraxis",
    xaxis="x2", yaxis="y2", hoverinfo="skip",
))

for h in range(3, 24, 3):
    fig.add_shape(type="line", x0=h, x1=h, y0=0, y1=1, xref="x2", yref="y2",
                  line=dict(color="black", width=1.2))

frame = dict(showline=True, linecolor="black", linewidth=2, showgrid=False, zeroline=False,
             automargin=False)
major = dict(ticks="inside", ticklen=9, tickwidth=1.5, tickcolor="black", mirror="allticks",
             minor=dict(dtick=0.02, ticks="inside", ticklen=5, tickwidth=1, tickcolor="black"))

fig.update_layout(
    width=1043, height=832,
    margin=dict(l=88, r=18, t=42, b=57, autoexpand=False),
    paper_bgcolor="white", plot_bgcolor="white",
    font=dict(family=FONT, size=18, color="black"),
    title=dict(text="<b>Site: SKB3; DOY: 181</b>", x=0.5, xref="paper", xanchor="center",
               y=1 - 17 / 832, yref="container", yanchor="middle", font=dict(size=15)),
    coloraxis=dict(colorscale=palette, cmin=0, cmax=24, showscale=False),
    xaxis=dict(
        domain=[0, 1], range=[-0.8, 0.1], anchor="y", dtick=0.1, tick0=0, tickformat=".1f",
        ticklabelstandoff=4,
        title=dict(text="<b>East (m)</b>", font=dict(size=17), standoff=9),
        **frame, **major,
    ),
    yaxis=dict(
        domain=[0.1473, 1], range=[-0.1, 0.5], anchor="x",
        tickvals=[-0.1, 0.0, 0.1, 0.2, 0.3, 0.4, 0.5],
        ticktext=["", "\u22120.0", "0.1", "0.2", "0.3", "0.4", "0.5"],
        title=dict(text="<b>North (m)</b>", font=dict(size=18), standoff=8),
        **frame, **major,
    ),
    xaxis2=dict(
        domain=[0, 1], range=[0, 24], anchor="y2", tickvals=list(range(0, 25, 3)),
        ticks="", ticklabelstandoff=4, mirror=True,
        title=dict(text="<b>Time (UTC)</b>", font=dict(size=17), standoff=8),
        **frame,
    ),
    yaxis2=dict(domain=[0, 0.0573], range=[0, 1], anchor="x2", showticklabels=False, ticks="",
                mirror=True, **frame),
)

fig.write_html("out.html")
